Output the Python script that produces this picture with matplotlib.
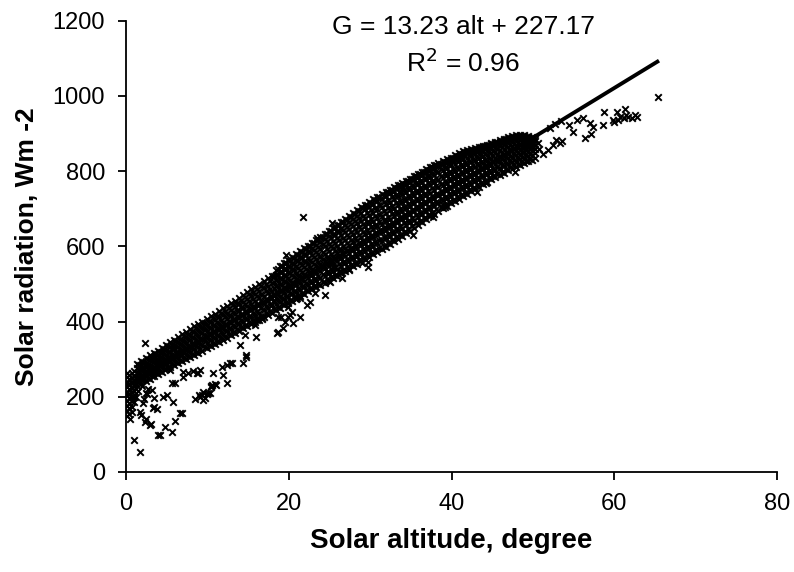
import matplotlib
matplotlib.use("Agg")
import matplotlib.pyplot as plt

plt.rcParams['font.family'] = ['Liberation Sans', 'DejaVu Sans']

# ---- data ----
slope = 13.23
intercept = 227.17
fit_alt_max = 65.5

# dense band, first set of columns: altitude and radiation values in each column
band_alt = [0.1, 0.4, 0.7, 1.0, 1.4, 1.9, 2.4, 2.9, 3.4, 3.9, 4.4, 4.9, 5.4, 5.9,
            6.4, 6.9, 7.4, 7.9, 8.4, 8.9, 9.4, 9.9, 10.4, 10.9, 11.4, 11.9,
            12.4, 12.9, 13.4, 13.9, 14.4, 14.9, 15.4, 15.9, 16.4, 16.9, 17.4,
            17.9, 18.4, 18.9, 19.4, 19.9, 20.4, 20.9, 21.4, 21.9, 22.4, 22.9,
            23.4, 23.9, 24.4, 24.9, 25.4, 25.9, 26.4, 26.9, 27.4, 27.9, 28.4,
            28.9, 29.4, 29.9, 30.4, 30.9, 31.4, 31.9, 32.4, 32.9, 33.4, 33.9,
            34.4, 34.9, 35.4, 35.9, 36.4, 36.9, 37.4, 37.9, 38.4, 38.9, 39.4,
            39.9, 40.4, 40.9, 41.4, 41.9, 42.4, 42.9, 43.4, 43.9, 44.4, 44.9,
            45.4, 45.9, 46.4, 46.9, 47.4, 47.9, 48.4, 48.9, 49.4, 49.9, 50.3]
band_rad = [
    [148, 163, 176, 190, 204, 214, 226, 238, 252, 262],
    [155, 170, 183, 196, 208, 221, 233, 246, 258],
    [160, 174, 188, 199, 212, 224, 237, 250, 264],
    [185, 200, 215, 228, 241, 255, 268],
    [229, 241, 252, 264, 276, 287],
    [235, 248, 259, 271, 284, 296],
    [242, 254, 266, 279, 290, 302],
    [247, 260, 273, 285, 297, 310],
    [254, 267, 279, 292, 305, 317],
    [261, 274, 287, 299, 311, 323],
    [267, 280, 293, 305, 318, 330],
    [273, 286, 299, 312, 325, 338],
    [279, 292, 306, 319, 332, 346],
    [285, 299, 312, 326, 339, 352],
    [290, 304, 318, 332, 346, 359],
    [296, 310, 324, 338, 352, 366],
    [301, 315, 330, 344, 358, 373],
    [306, 320, 335, 350, 364, 380],
    [311, 326, 341, 356, 371, 387],
    [317, 332, 347, 362, 378, 394],
    [323, 338, 353, 369, 384, 400],
    [329, 344, 360, 375, 391, 408],
    [335, 350, 366, 382, 398, 414],
    [341, 356, 372, 388, 405, 421],
    [346, 362, 378, 394, 411, 428],
    [351, 367, 384, 400, 417, 435],
    [357, 374, 390, 407, 424, 442],
    [363, 380, 397, 414, 431, 449],
    [370, 386, 404, 421, 438, 456],
    [376, 393, 410, 428, 446, 463],
    [382, 399, 417, 435, 453, 471],
    [388, 406, 424, 442, 460, 478],
    [394, 412, 430, 448, 467, 486],
    [400, 418, 437, 455, 474, 493],
    [405, 424, 443, 462, 481, 500],
    [412, 431, 450, 469, 488, 508],
    [418, 437, 456, 476, 495, 515],
    [424, 443, 463, 482, 502, 522],
    [430, 446, 462, 478, 494, 510, 525, 538],
    [437, 453, 469, 485, 501, 517, 532, 548],
    [443, 459, 476, 492, 508, 524, 540, 556],
    [449, 466, 482, 499, 515, 532, 548, 564],
    [455, 472, 489, 506, 523, 540, 556, 571],
    [461, 478, 496, 513, 530, 547, 564, 579],
    [468, 485, 503, 520, 537, 555, 572, 587],
    [474, 492, 509, 527, 545, 562, 580, 595],
    [480, 498, 516, 534, 552, 570, 588, 602],
    [486, 504, 523, 541, 559, 577, 595, 609],
    [492, 510, 529, 548, 566, 585, 603, 617],
    [497, 516, 535, 554, 573, 592, 611, 625],
    [503, 522, 542, 561, 580, 600, 619, 633],
    [509, 528, 548, 568, 587, 607, 627, 641],
    [515, 535, 555, 575, 595, 614, 634, 649],
    [521, 541, 561, 582, 602, 622, 642, 657],
    [528, 548, 568, 589, 609, 630, 650, 665],
    [534, 555, 575, 596, 617, 637, 658, 673],
    [541, 562, 583, 603, 624, 645, 666, 680],
    [547, 568, 589, 611, 632, 653, 674, 688],
    [554, 575, 596, 618, 639, 661, 682, 696],
    [560, 582, 603, 625, 647, 668, 690, 705],
    [566, 588, 610, 632, 654, 676, 698, 711],
    [573, 595, 617, 639, 661, 683, 705, 718],
    [579, 601, 624, 646, 668, 690, 712, 725],
    [585, 608, 630, 653, 675, 698, 720, 731],
    [592, 615, 637, 660, 682, 705, 727, 738],
    [598, 621, 644, 667, 689, 712, 734, 745],
    [605, 628, 651, 674, 696, 719, 741, 751],
    [613, 636, 658, 681, 703, 726, 748, 757],
    [620, 643, 665, 688, 710, 733, 754, 763],
    [627, 650, 672, 694, 717, 739, 760, 768],
    [635, 657, 679, 701, 723, 745, 766, 774],
    [642, 664, 686, 708, 730, 752, 772, 780],
    [649, 671, 693, 715, 737, 759, 779, 787],
    [657, 679, 701, 722, 744, 765, 785, 793],
    [664, 686, 708, 729, 751, 772, 791, 799],
    [672, 694, 715, 736, 758, 779, 797, 805],
    [680, 701, 722, 743, 764, 785, 803, 811],
    [687, 708, 729, 750, 771, 791, 809, 816],
    [694, 715, 736, 757, 777, 797, 814, 821],
    [701, 722, 743, 763, 783, 803, 819, 826],
    [707, 728, 749, 769, 789, 809, 824, 831],
    [715, 735, 756, 776, 796, 815, 830, 836],
    [721, 741, 762, 782, 801, 820, 836, 842],
    [727, 747, 768, 788, 807, 826, 841, 848],
    [733, 754, 774, 794, 813, 831, 846, 853],
    [739, 760, 780, 800, 819, 836, 850, 856],
    [746, 767, 787, 806, 824, 840, 853, 858],
    [753, 773, 793, 812, 829, 845, 857, 861],
    [759, 779, 799, 817, 834, 849, 860, 864],
    [766, 786, 805, 822, 839, 853, 864, 867],
    [772, 792, 810, 827, 843, 857, 867, 870],
    [778, 797, 815, 832, 847, 861, 871, 874],
    [784, 803, 820, 836, 851, 865, 874, 878],
    [791, 809, 826, 841, 856, 869, 878, 882],
    [796, 813, 830, 845, 860, 873, 882, 886],
    [802, 818, 834, 849, 864, 877, 886, 890],
    [807, 823, 838, 853, 867, 880, 889, 893],
    [812, 828, 842, 856, 870, 883, 892, 896],
    [817, 832, 846, 860, 873, 885, 894, 897],
    [822, 836, 850, 863, 875, 886, 893, 896],
    [826, 840, 853, 866, 877, 887, 892, 894],
    [830, 843, 856, 868, 879, 888, 891],
    [834, 847, 859, 870, 880, 886],
]

# dense band, second set of columns in between
band2_alt = [1.65, 2.15, 2.65, 3.15, 3.65, 4.15, 4.65, 5.15, 5.65, 6.15, 6.65,
             7.15, 7.65, 8.15, 8.65, 9.15, 9.65, 10.15, 10.65, 11.15, 11.65,
             12.15, 12.65, 13.15, 13.65, 14.15, 14.65, 15.15, 15.65, 16.15,
             16.65, 17.15, 17.65, 18.15, 18.65, 19.15, 19.65, 20.15, 20.65,
             21.15, 21.65, 22.15, 22.65, 23.15, 23.65, 24.15, 24.65, 25.15,
             25.65, 26.15, 26.65, 27.15, 27.65, 28.15, 28.65, 29.15, 29.65,
             30.15, 30.65, 31.15, 31.65, 32.15, 32.65, 33.15, 33.65, 34.15,
             34.65, 35.15, 35.65, 36.15, 36.65, 37.15, 37.65, 38.15, 38.65,
             39.15, 39.65, 40.15, 40.65, 41.15, 41.65, 42.15, 42.65, 43.15,
             43.65, 44.15, 44.65, 45.15, 45.65, 46.15, 46.65, 47.15, 47.65,
             48.15, 48.65, 49.15, 49.65]
band2_rad = [
    [238, 250, 262, 273, 285],
    [244, 256, 268, 280, 292],
    [250, 262, 275, 288, 300],
    [255, 268, 281, 294, 307],
    [262, 275, 288, 300, 313],
    [268, 281, 294, 307, 320],
    [274, 287, 300, 313, 327],
    [280, 294, 307, 320, 334],
    [286, 300, 314, 327, 341],
    [292, 306, 320, 334, 348],
    [298, 312, 326, 340, 354],
    [303, 317, 332, 347, 362],
    [308, 323, 338, 353, 368],
    [314, 329, 344, 359, 375],
    [320, 335, 350, 366, 382],
    [326, 341, 357, 373, 389],
    [332, 348, 363, 379, 396],
    [338, 354, 370, 386, 402],
    [344, 360, 376, 392, 409],
    [349, 365, 382, 399, 416],
    [355, 371, 388, 405, 423],
    [361, 378, 394, 411, 429],
    [367, 384, 401, 418, 436],
    [373, 391, 408, 425, 443],
    [379, 397, 414, 432, 450],
    [386, 403, 421, 439, 458],
    [392, 410, 428, 447, 465],
    [398, 416, 435, 454, 472],
    [404, 422, 441, 460, 479],
    [410, 429, 448, 467, 486],
    [416, 435, 455, 474, 494],
    [422, 442, 461, 481, 501],
    [428, 448, 468, 487, 507],
    [434, 452, 470, 488, 506, 522],
    [440, 457, 474, 491, 508, 525, 540],
    [446, 463, 480, 497, 514, 531, 547],
    [452, 469, 486, 504, 521, 539, 555],
    [458, 475, 493, 511, 528, 546, 562],
    [464, 482, 500, 518, 536, 553, 569],
    [471, 489, 507, 525, 543, 561, 578],
    [477, 495, 514, 532, 550, 569, 586],
    [483, 502, 520, 539, 558, 576, 594],
    [489, 508, 527, 546, 565, 584, 601],
    [495, 514, 533, 553, 572, 591, 609],
    [501, 520, 540, 559, 579, 599, 617],
    [506, 526, 546, 566, 586, 606, 624],
    [512, 532, 553, 573, 593, 614, 632],
    [518, 539, 559, 580, 601, 621, 640],
    [525, 545, 566, 587, 608, 629, 648],
    [531, 552, 573, 594, 616, 637, 656],
    [538, 559, 580, 602, 623, 644, 664],
    [544, 566, 587, 609, 630, 652, 671],
    [551, 572, 594, 616, 638, 660, 679],
    [557, 579, 601, 623, 645, 668, 687],
    [564, 586, 608, 630, 652, 675, 695],
    [570, 592, 614, 637, 659, 682, 702],
    [576, 599, 621, 644, 666, 689, 709],
    [583, 605, 628, 651, 673, 696, 716],
    [589, 612, 635, 657, 680, 703, 723],
    [595, 618, 641, 664, 687, 710, 730],
    [602, 625, 648, 671, 694, 717, 737],
    [609, 632, 655, 678, 701, 724, 744],
    [616, 639, 662, 685, 708, 731, 750],
    [624, 647, 669, 692, 714, 737, 756],
    [631, 654, 676, 698, 721, 743, 762],
    [638, 661, 683, 705, 727, 749, 767],
    [646, 668, 690, 712, 734, 756, 773],
    [653, 675, 697, 719, 741, 762, 780],
    [661, 683, 705, 726, 748, 769, 786],
    [668, 690, 712, 733, 755, 775, 792],
    [676, 697, 719, 740, 761, 782, 798],
    [683, 705, 726, 747, 768, 788, 804],
    [690, 712, 733, 754, 774, 794, 810],
    [698, 719, 740, 760, 781, 800, 815],
    [705, 726, 746, 767, 787, 806, 820],
    [711, 732, 752, 773, 793, 812, 825],
    [718, 738, 759, 779, 799, 818, 830],
    [724, 745, 765, 785, 805, 823, 836],
    [731, 751, 771, 791, 811, 829, 841],
    [737, 757, 777, 797, 816, 834, 846],
    [743, 763, 783, 803, 822, 839, 851],
    [749, 770, 790, 809, 827, 844, 854],
    [756, 776, 796, 815, 832, 848, 857],
    [763, 782, 802, 820, 837, 852, 860],
    [769, 789, 808, 825, 842, 856, 863],
    [775, 795, 813, 830, 846, 860, 866],
    [781, 800, 818, 835, 850, 863, 869],
    [787, 806, 823, 839, 854, 867, 873],
    [793, 811, 828, 844, 859, 871, 877],
    [799, 816, 832, 848, 863, 875, 881],
    [805, 821, 837, 852, 867, 879, 885],
    [810, 826, 841, 856, 870, 882, 888],
    [815, 830, 845, 859, 873, 885, 891],
    [820, 834, 849, 862, 875, 887, 893],
    [824, 838, 852, 865, 877, 888, 893],
    [828, 842, 855, 868, 879, 888, 892],
    [832, 845, 858, 870, 881, 889],
]

# scattered points away from the band
scat_alt = [2.3, 2.5, 2.1, 1.7, 2.3, 2.9, 3.9, 4.8, 5.6, 6.0, 6.9, 3.3, 3.5, 5.0,
            5.8, 5.6, 6.0, 1.7, 1.0, 7.0, 8.8, 9.3, 9.7, 10.3, 10.6, 11.0, 10.7,
            11.9, 12.4, 11.8, 12.8, 14.4, 14.8, 14.0, 14.6, 16.0, 15.8, 16.7,
            18.5, 19.3, 18.7, 19.9, 20.5, 21.0, 19.7, 21.7, 21.4, 22.6, 22.2,
            20.1, 21.4, 23.2, 24.4, 25.1, 29.0, 29.8, 29.7, 35.3, 38.9, 25.4,
            26.4, 26.6, 27.4, 23.5, 25.3, 33.9, 37.1, 43.1, 44.3, 39.2, 37.7,
            47.8, 1.2, 1.5, 2.0, 2.7, 0.5, 4.5, 8.5, 9.0,
            5.4, 7.0, 7.6, 8.2, 8.7, 9.1, 9.5, 9.9, 10.5, 10.9, 2.2, 2.6, 3.2,
            3.8, 3.4, 6.6, 1.9, 2.4, 3.1, 4.2, 16.1, 16.7, 19.9, 20.4, 19.0,
            19.5, 18.7, 14.8, 13.0, 12.4, 10.4, 9.5, 10.1, 9.1,
            50.6, 50.8, 51.2, 51.9, 52.5, 53.3, 52.9, 53.6, 52.1, 52.7, 53.5,
            54.5, 54.9, 55.4, 56.2, 56.4, 57.0, 57.4, 57.2, 58.6, 58.8, 60.3,
            61.3, 59.8, 60.0, 60.5, 60.7, 61.2, 61.5, 61.7, 62.2, 62.5, 62.8,
            65.4]
scat_rad = [343, 210, 183, 160, 133, 125, 98, 120, 106, 135, 156, 170, 173, 205,
            186, 236, 236, 53, 85, 253, 262, 205, 197, 210, 231, 232, 262,
            258, 236, 280, 289, 289, 307, 338, 364, 359, 391, 407,
            370, 383, 412, 412, 396, 463, 577, 678, 463, 452, 443,
            418, 412, 476, 471, 505, 556, 559, 545, 630, 710, 545,
            535, 517, 537, 622, 662, 753, 790, 745, 769, 705, 678,
            798, 200, 215, 228, 220, 140, 200, 195, 205,
            271, 266, 263, 268, 264, 271, 191, 207, 227, 233, 193, 208, 218,
            168, 197, 157, 152, 140, 128, 98, 404, 409, 439, 426, 412,
            399, 372, 312, 290, 285, 228, 212, 210, 200,
            875, 860, 845, 856, 869, 874, 883, 880, 915, 925, 933,
            923, 904, 936, 941, 888, 928, 918, 900, 923, 957, 957,
            965, 936, 930, 935, 945, 940, 948, 945, 942, 950, 945,
            997]

x_ticks = [0, 20, 40, 60, 80]
y_ticks = [0, 200, 400, 600, 800, 1000, 1200]

# ---- build ----
alt = []
rad = []
for a, ys in list(zip(band_alt, band_rad)) + list(zip(band2_alt, band2_rad)):
    for y in ys:
        alt.append(a)
        rad.append(y)
alt += scat_alt
rad += scat_rad

W, H = 794, 572
fig = plt.figure(figsize=(W / 100, H / 100), dpi=100)
ax_l, ax_r, ax_b, ax_t = 126, 777, 472, 20.7
ax = fig.add_axes([ax_l / W, 1 - ax_b / H, (ax_r - ax_l) / W, (ax_b - ax_t) / H])

ax.scatter(alt, rad, marker='x', s=22, linewidths=1.4, color='black', zorder=2)
ax.plot([0, fit_alt_max], [intercept, intercept + slope * fit_alt_max],
        color='black', linewidth=2.8, zorder=3, solid_capstyle='butt')

ax.set_xlim(0, 80)
ax.set_ylim(0, 1200)
ax.set_xticks(x_ticks)
ax.set_yticks(y_ticks)
for s in ['top', 'right']:
    ax.spines[s].set_visible(False)
for s in ['left', 'bottom']:
    ax.spines[s].set_linewidth(1.3)
ax.tick_params(axis='both', direction='out', length=6, width=1.3,
               labelsize=17, pad=9)

fig.text((ax_l + ax_r) / 2 / W, 1 - 541 / H, 'Solar altitude, degree',
         fontsize=20, fontweight='bold', ha='center', va='center')
fig.text(27 / W, 1 - (ax_b + ax_t) / 2 / H, 'Solar radiation, Wm -2',
         fontsize=19, fontweight='bold', ha='center', va='center', rotation=90)

fig.text(463 / W, 1 - 27 / H, 'G = 13.23 alt + 227.17', fontsize=19,
         ha='center', va='center')
fig.text(463 / W, 1 - 63 / H, r'R$^2$ = 0.96', fontsize=19,
         ha='center', va='center')

fig.savefig('out.png', dpi=100)
